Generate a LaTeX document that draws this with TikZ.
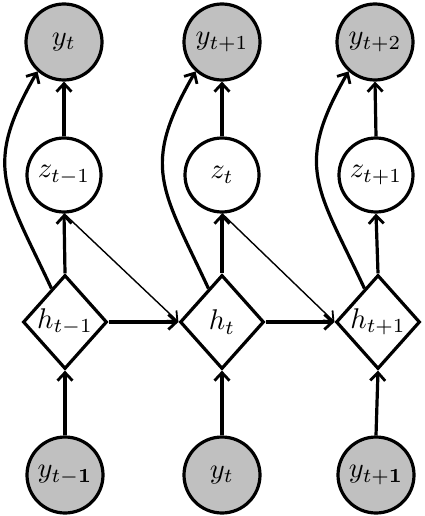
\RequirePackage{fix-cm}
\documentclass[tikz,border=0pt]{standalone}
\usetikzlibrary{shapes.geometric,arrows.meta}
\definecolor{obsgray}{RGB}{192,192,192}
\newcommand{\lbl}[1]{\scalebox{2.85}{$#1$}}
\tikzset{
  obs/.style={circle,draw,line width=3.2pt,fill=obsgray,minimum size=76pt,inner sep=0pt},
  lat/.style={circle,draw,line width=3.2pt,fill=white,minimum size=74pt,inner sep=0pt},
  hid/.style={diamond,draw,line width=3.2pt,fill=white,minimum width=84pt,minimum height=94pt,inner sep=0pt},
  arr/.style={line width=3.2pt,-{Straight Barb[length=8pt,width=15pt,line width=2.8pt]}},
  thinarr/.style={line width=1.4pt,-{Straight Barb[length=8pt,width=14pt,line width=1.8pt]}},
}
\begin{document}
\begin{tikzpicture}[x=1pt,y=1pt]
\useasboundingbox (0,0) rectangle (424,-516);
% top observed
\node[obs] (ya) at (64,-42) {\lbl{y_t}};
\node[obs] (yb) at (222,-42) {\lbl{y_{t+1}}};
\node[obs] (yc) at (375,-42) {\lbl{y_{t+2}}};
% latent z
\node[lat] (za) at (64,-175) {\lbl{z_{t-1}}};
\node[lat] (zb) at (222,-175) {\lbl{z_t}};
\node[lat] (zc) at (376,-175) {\lbl{z_{t+1}}};
% hidden h
\node[hid] (ha) at (65,-322) {\lbl{h_{t-1}}};
\node[hid] (hb) at (222,-322) {\lbl{h_t}};
\node[hid] (hc) at (378,-322) {\lbl{h_{t+1}}};
% bottom observed
\node[obs] (xa) at (65,-475) {\lbl{y_{t\mathbf{-1}}}};
\node[obs] (xb) at (222,-475) {\lbl{y_t}};
\node[obs] (xc) at (376,-475) {\lbl{y_{t\mathbf{+1}}}};
% vertical arrows
\foreach \h/\z/\y/\x in {ha/za/ya/xa,hb/zb/yb/xb,hc/zc/yc/xc}{
  \draw[arr] (\h.north) -- (\z.south);
  \draw[arr] (\z.north) -- (\y.south);
  \draw[arr] (\x.north) -- (\h.south);
  \draw[arr] (\h.112) to[out=115,in=240,looseness=1.3] (\y.228);
}
% horizontal
\draw[arr] (ha.east) -- (hb.west);
\draw[arr] (hb.east) -- (hc.west);
% thin diagonals
\draw[thinarr] (za.south) -- (hb.west);
\draw[thinarr] (zb.south) -- (hc.west);
\end{tikzpicture}
\end{document}
